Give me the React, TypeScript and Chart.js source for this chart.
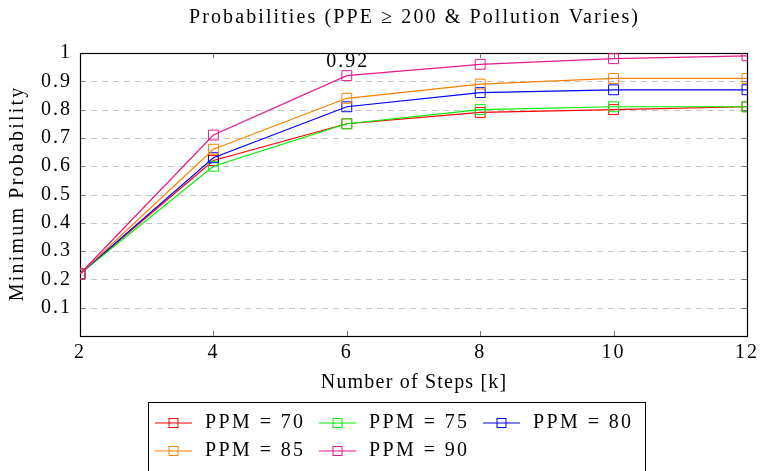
import React, { useEffect, useRef } from "react";
import { Chart, registerables } from "chart.js";

Chart.register(...registerables);

const steps = [2, 4, 6, 8, 10, 12];
const ppm70 = [0.22, 0.62, 0.75, 0.79, 0.80, 0.81];
const ppm75 = [0.22, 0.60, 0.75, 0.80, 0.81, 0.81];
const ppm80 = [0.22, 0.63, 0.81, 0.86, 0.87, 0.87];
const ppm85 = [0.22, 0.66, 0.84, 0.89, 0.91, 0.91];
const ppm90 = [0.22, 0.71, 0.92, 0.96, 0.98, 0.99];
const seriesLabels = ["PPM = 70", "PPM = 75", "PPM = 80", "PPM = 85", "PPM = 90"];
const seriesColors = ["#ff0000", "#00ee00", "#0000ff", "#ff8000", "#e5198a"];
const titleText = "Probabilities (PPE \u2265 200 & Pollution Varies)";
const xTitle = "Number of Steps [k]";
const yTitle = "Minimum Probability";
const annotatedSeries = 4;
const annotatedIndex = 2;

const FONT = "'Liberation Serif', 'Times New Roman', serif";

function spaced(ctx: any, text: string, x: number, y: number, spacing: number, align: string) {
  ctx.letterSpacing = spacing + "px";
  const w = ctx.measureText(text).width - spacing;
  const startX = align === "center" ? x - w / 2 : x;
  const prevAlign = ctx.textAlign;
  ctx.textAlign = "left";
  ctx.fillText(text, startX, y);
  ctx.textAlign = prevAlign;
  ctx.letterSpacing = "0px";
}

export default function App() {
  const ref = useRef<HTMLCanvasElement | null>(null);

  useEffect(() => {
    const canvas = ref.current;
    if (!canvas) return;
    const all = [ppm70, ppm75, ppm80, ppm85, ppm90];

    const decor = {
      id: "decor",
      beforeDraw(chart: any) {
        chart.ctx.letterSpacing = "2px";
      },
      beforeDatasetsDraw(chart: any) {
        const { ctx, chartArea: a, scales } = chart;
        const x = scales.x;
        const y = scales.y;
        ctx.save();
        ctx.strokeStyle = "#c4c4c4";
        ctx.lineWidth = 1;
        ctx.setLineDash([6, 5]);
        for (let v = 1; v <= 9; v++) {
          const py = Math.round(y.getPixelForValue(v / 10)) + 0.5;
          ctx.beginPath();
          ctx.moveTo(a.left, py);
          ctx.lineTo(a.right, py);
          ctx.stroke();
        }
        ctx.setLineDash([]);
        ctx.strokeStyle = "#777";
        for (let v = 1; v <= 9; v++) {
          const py = Math.round(y.getPixelForValue(v / 10)) + 0.5;
          ctx.beginPath();
          ctx.moveTo(a.left, py);
          ctx.lineTo(a.left + 5, py);
          ctx.moveTo(a.right, py);
          ctx.lineTo(a.right - 5, py);
          ctx.stroke();
        }
        for (const s of steps) {
          const px = Math.round(x.getPixelForValue(s)) + 0.5;
          ctx.beginPath();
          ctx.moveTo(px, a.bottom);
          ctx.lineTo(px, a.bottom - 5);
          ctx.moveTo(px, a.top);
          ctx.lineTo(px, a.top + 5);
          ctx.stroke();
        }
        ctx.strokeStyle = "#000";
        ctx.lineWidth = 1.2;
        ctx.strokeRect(Math.round(a.left) + 0.5, Math.round(a.top) + 0.5, Math.round(a.right - a.left), Math.round(a.bottom - a.top));
        ctx.restore();
      },
      afterDraw(chart: any) {
        const { ctx, chartArea: a, scales } = chart;
        const cx = (a.left + a.right) / 2;
        ctx.save();
        ctx.fillStyle = "#000";
        ctx.font = `20px ${FONT}`;
        ctx.textAlign = "center";
        ctx.textBaseline = "middle";
        spaced(ctx, titleText, cx, 18, 2.1, "center");
        spaced(ctx, xTitle, cx, 383, 1.2, "center");
        const val = all[annotatedSeries][annotatedIndex];
        const apx = scales.x.getPixelForValue(steps[annotatedIndex]);
        const apy = scales.y.getPixelForValue(val);
        spaced(ctx, String(val), apx, apy - 14, 2, "center");
        ctx.save();
        ctx.translate(18, (a.top + a.bottom) / 2);
        ctx.rotate(-Math.PI / 2);
        spaced(ctx, yTitle, 0, 0, 2.2, "center");
        ctx.restore();
        ctx.strokeStyle = "#000";
        ctx.lineWidth = 1;
        ctx.strokeRect(148.5, 402.5, 497, 80);
        const cols = [155, 319, 483];
        const rows = [423, 451];
        for (let i = 0; i < seriesLabels.length; i++) {
          const lx = cols[i % 3];
          const ly = rows[Math.floor(i / 3)];
          ctx.strokeStyle = seriesColors[i];
          ctx.lineWidth = 1.2;
          ctx.beginPath();
          ctx.moveTo(lx, ly);
          ctx.lineTo(lx + 37, ly);
          ctx.stroke();
          ctx.lineWidth = 1;
          ctx.strokeRect(lx + 18.5 - 4.5, ly - 4.5, 9, 9);
          ctx.fillStyle = "#000";
          spaced(ctx, seriesLabels[i], lx + 50, ly, 2.4, "left");
        }
        ctx.restore();
      },
    };

    const chart = new Chart(canvas, {
      type: "line",
      data: {
        labels: steps,
        datasets: all.map((d, i) => ({
          label: seriesLabels[i],
          data: d.map((v, j) => ({ x: steps[j], y: v })),
          borderColor: seriesColors[i],
          backgroundColor: "transparent",
          borderWidth: 1.2,
          pointStyle: "rect",
          pointRadius: 7,
          pointBorderWidth: 1,
          pointBorderColor: seriesColors[i],
          pointBackgroundColor: "transparent",
          tension: 0,
          order: all.length - i,
        })),
      },
      options: {
        responsive: false,
        animation: false,
        events: [],
        layout: { padding: { top: 53, right: 14, left: 0, bottom: 0 } },
        plugins: { legend: { display: false }, title: { display: false }, tooltip: { enabled: false } },
        scales: {
          x: {
            type: "linear",
            min: 2,
            max: 12,
            grid: { display: false, drawTicks: false },
            border: { display: false },
            ticks: { stepSize: 2, color: "#000", font: { family: FONT, size: 20 }, padding: 5, maxRotation: 0 },
            afterFit: (s: any) => { s.height = 135; },
          },
          y: {
            min: 0,
            max: 1,
            grid: { display: false, drawTicks: false },
            border: { display: false },
            ticks: {
              stepSize: 0.1,
              color: "#000",
              font: { family: FONT, size: 20 },
              padding: 8,
              callback: (v: any) => { const n = Math.round(Number(v) * 10) / 10; return n === 0 ? "" : String(n); },
            },
            afterFit: (s: any) => { s.width = 80; },
          },
        },
      },
      plugins: [decor],
    });
    return () => chart.destroy();
  }, []);

  return (
    <div style={{ position: "fixed", left: 0, top: 0, width: 762, height: 471, background: "#fff" }}>
      <canvas ref={ref} width={762} height={471} style={{ width: 762, height: 471, display: "block" }} />
    </div>
  );
}
